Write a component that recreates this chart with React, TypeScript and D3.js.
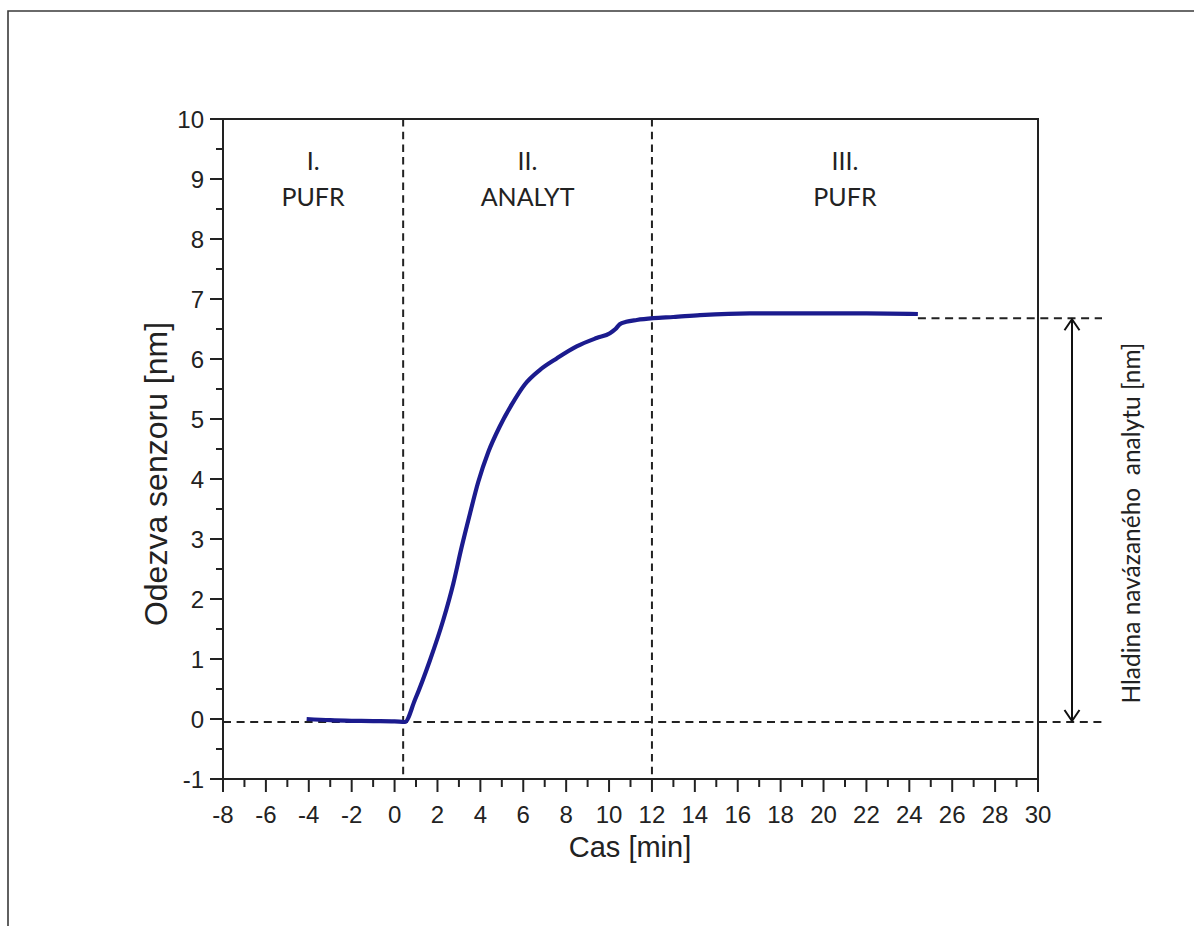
import React from "react";
import * as d3 from "d3";

// Sensor response over time (minutes, nm)
const timeMin = [-4.1, -3, -2, -1, 0, 0.48, 0.95, 1.65, 2.27, 2.74, 3.13, 3.52, 3.9, 4.37, 4.91, 5.46, 6.08, 6.78, 7.56, 8.49, 9.42, 10.04, 10.3, 10.5, 10.8, 11.29, 12.06, 13.0, 14.24, 16.57, 18.9, 22.0, 24.4];
const responseNm = [0.0, -0.02, -0.03, -0.035, -0.04, -0.05, 0.32, 0.98, 1.65, 2.26, 2.87, 3.43, 3.95, 4.45, 4.88, 5.24, 5.58, 5.82, 6.01, 6.21, 6.35, 6.43, 6.5, 6.58, 6.62, 6.65, 6.68, 6.7, 6.73, 6.76, 6.76, 6.76, 6.75];

// Phase boundaries and labels
const phaseBounds = [-8, 0.4, 12, 30];
const phaseNumerals = ["I.", "II.", "III."];
const phaseNames = ["PUFR", "ANALYT", "PUFR"];

// Reference levels: baseline and bound-analyte plateau
const baselineLevel = -0.05;
const plateauLevel = 6.68;

const xTicks = d3.range(-8, 31, 2);
const xMinor = d3.range(-7, 30, 2);
const yTicks = d3.range(-1, 11, 1);
const yMinor = d3.range(-0.5, 10, 1);

const W = 1194;
const H = 926;
const plot = { left: 223, right: 1038, top: 119, bottom: 779 };

const x = d3.scaleLinear().domain([-8, 30]).range([plot.left, plot.right]);
const y = d3.scaleLinear().domain([-1, 10]).range([plot.bottom, plot.top]);

const INK = "#222";
const tickFont = "'Liberation Sans', Arial, sans-serif";
const noteFont = "Lato, 'Open Sans', sans-serif";

export default function App() {
  const line = d3
    .line<number>()
    .x((_, i) => x(timeMin[i]))
    .y((d) => y(d))
    .curve(d3.curveMonotoneX);

  const arrowX = 1072;
  const extRight = 1102;
  const yTop = y(plateauLevel);
  const yBot = y(baselineLevel);
  const lastX = x(timeMin[timeMin.length - 1]);

  return (
    <svg width={W} height={H} style={{ position: "absolute", left: 0, top: 0, background: "#fff" }}>
      {/* outer frame */}
      <path d={`M8,${H + 5} L8,11 L${W + 5},11`} fill="none" stroke="#3a3a3a" strokeWidth={1.6} />

      {/* phase separators */}
      {[phaseBounds[1], phaseBounds[2]].map((b) => (
        <line key={b} x1={x(b)} x2={x(b)} y1={plot.top} y2={plot.bottom} stroke={INK} strokeWidth={2} strokeDasharray="7.5,5.2" />
      ))}

      {/* baseline and plateau reference lines */}
      <line x1={plot.left} x2={extRight} y1={yBot} y2={yBot} stroke={INK} strokeWidth={2} strokeDasharray="8,5.6" />
      <line x1={lastX} x2={extRight} y1={yTop} y2={yTop} stroke={INK} strokeWidth={2} strokeDasharray="8,5.6" />

      {/* response curve */}
      <path d={line(responseNm) || ""} fill="none" stroke="#1b1b8e" strokeWidth={4.2} strokeLinejoin="round" />

      {/* plot frame */}
      <rect x={plot.left} y={plot.top} width={plot.right - plot.left} height={plot.bottom - plot.top} fill="none" stroke={INK} strokeWidth={2} />

      {/* x axis ticks */}
      {xTicks.map((t) => (
        <g key={`xt${t}`}>
          <line x1={x(t)} x2={x(t)} y1={plot.bottom} y2={plot.bottom + 13} stroke={INK} strokeWidth={2} />
          <text x={x(t)} y={823} textAnchor="middle" fontFamily={tickFont} fontSize={24} fill={INK}>
            {t}
          </text>
        </g>
      ))}
      {xMinor.map((t) => (
        <line key={`xm${t}`} x1={x(t)} x2={x(t)} y1={plot.bottom} y2={plot.bottom + 8} stroke={INK} strokeWidth={2} />
      ))}

      {/* y axis ticks */}
      {yTicks.map((t) => (
        <g key={`yt${t}`}>
          <line x1={plot.left - 13} x2={plot.left} y1={y(t)} y2={y(t)} stroke={INK} strokeWidth={2} />
          <text x={204} y={y(t) + 8.5} textAnchor="end" fontFamily={tickFont} fontSize={24} fill={INK}>
            {t}
          </text>
        </g>
      ))}
      {yMinor.map((t) => (
        <line key={`ym${t}`} x1={plot.left - 7} x2={plot.left} y1={y(t)} y2={y(t)} stroke={INK} strokeWidth={2} />
      ))}

      {/* axis titles */}
      <text x={630} y={857} textAnchor="middle" fontFamily={tickFont} fontSize={29} fill={INK}>
        Cas [min]
      </text>
      <text transform={`translate(167,474) rotate(-90)`} textAnchor="middle" fontFamily={tickFont} fontSize={32} fill={INK}>
        Odezva senzoru [nm]
      </text>

      {/* phase labels */}
      {phaseNames.map((name, i) => {
        const cx = x((phaseBounds[i] + phaseBounds[i + 1]) / 2);
        return (
          <g key={`ph${i}`} fontFamily={noteFont} fontSize={25} fill={INK} textAnchor="middle">
            <text x={cx} y={170}>{phaseNumerals[i]}</text>
            <text x={cx} y={206}>{name}</text>
          </g>
        );
      })}

      {/* double-headed arrow for bound analyte level */}
      <g stroke="#111" strokeWidth={2} fill="none">
        <line x1={arrowX} x2={arrowX} y1={yTop + 1} y2={yBot - 1} />
        <polyline points={`${arrowX - 7.5},${yTop + 12} ${arrowX},${yTop + 1} ${arrowX + 7.5},${yTop + 12}`} />
        <polyline points={`${arrowX - 7.5},${yBot - 12} ${arrowX},${yBot - 1} ${arrowX + 7.5},${yBot - 12}`} />
      </g>
      <text transform={`translate(1140,${(yTop + yBot) / 2 + 3}) rotate(-90)`} textAnchor="middle" fontFamily={noteFont} fontSize={24.5} fill={INK} style={{ whiteSpace: "pre" }}>
        {"Hladina navázaného  analytu [nm]"}
      </text>
    </svg>
  );
}
